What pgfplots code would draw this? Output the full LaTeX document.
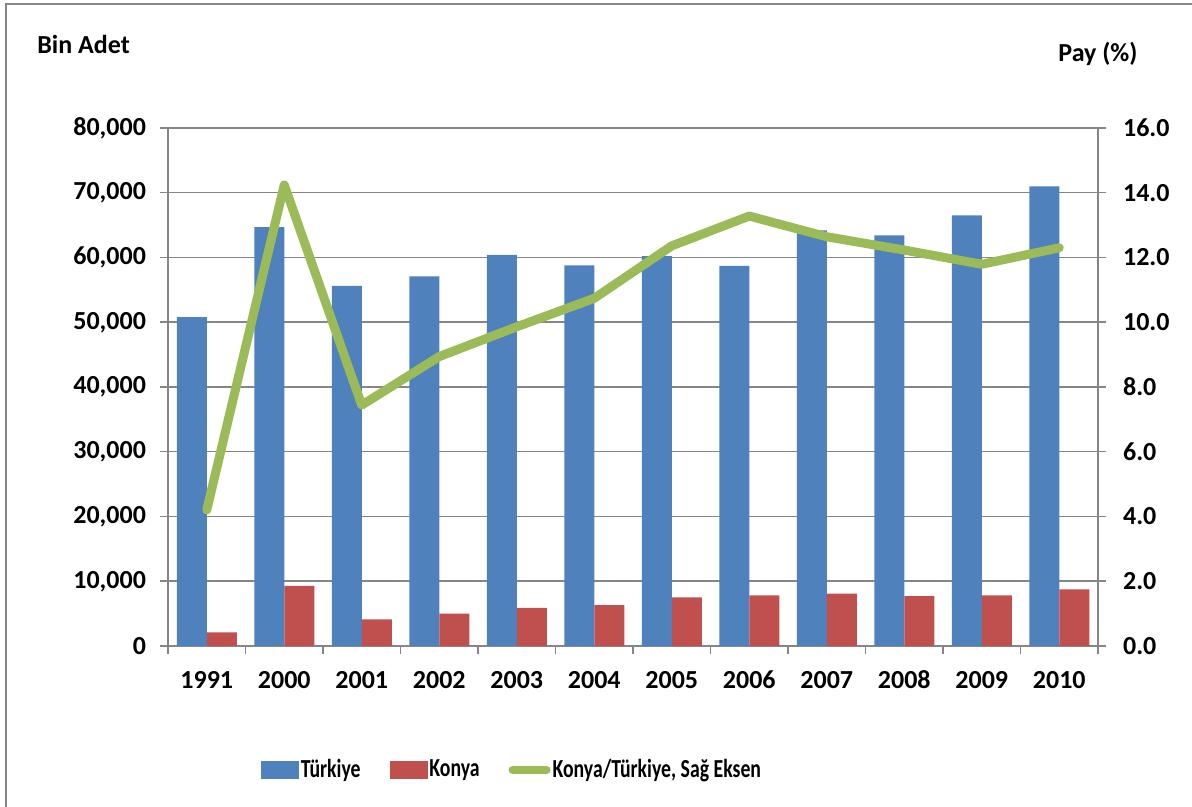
\documentclass[border=0pt]{standalone}
\usepackage{fontspec}
\setmainfont{Carlito}
\usepackage{pgfplots}
\pgfplotsset{compat=1.18}
\definecolor{trblue}{HTML}{4F81BD}
\definecolor{knred}{HTML}{C0504D}
\definecolor{shgreen}{HTML}{9BBB59}
\definecolor{axgray}{HTML}{868686}

\pgfplotsset{
  common/.style={
    at={(84pt,80.5pt)}, anchor=south west,
    scale only axis, width=465pt, height=259pt,
    xmin=-0.5, xmax=11.5,
    axis line style={axgray, line width=0.75pt},
    tick style={axgray, line width=0.75pt},
    tick align=outside,
    major tick length=4pt,
    tick label style={black},
  },
}
\newcommand{\legtext}[1]{\scalebox{0.76}[1]{#1}}

\begin{document}
\begin{tikzpicture}[font=\bfseries\fontsize{13}{15}\selectfont]
\path[use as bounding box] (0,0) rectangle (596pt,403.5pt);
\draw[axgray, line width=1pt] (3pt,0) -- (3pt,401.5pt) -- (596pt,401.5pt);

\node[anchor=base west, inner sep=0pt] at (18.5pt,376.5pt) {Bin Adet};
\node[anchor=base west, inner sep=0pt] at (529pt,372.7pt) {Pay (\%)};

% left axis: bars
\begin{axis}[
  common,
  ymin=0, ymax=80000,
  axis y line*=left, axis x line*=bottom,
  ybar=0pt, bar width=15pt,
  xtick={-0.5,0.5,...,11.5},
  xticklabels={1991,2000,2001,2002,2003,2004,2005,2006,2007,2008,2009,2010,{}},
  xticklabel style={xshift=19.375pt, yshift=-4.5pt, text height=9pt, text depth=0pt},
  ytick={0,10000,...,80000},
  scaled y ticks=false,
  yticklabel style={xshift=-3.5pt, /pgf/number format/.cd, fixed, 1000 sep={,}, assume math mode=true},
  ymajorgrids,
  grid style={axgray, line width=0.75pt},
]
\addplot[fill=trblue, draw=none] coordinates {
  (0,50800) (1,64700) (2,55600) (3,57100) (4,60400) (5,58800)
  (6,60200) (7,58700) (8,64200) (9,63400) (10,66500) (11,71000)
};
\addplot[fill=knred, draw=none] coordinates {
  (0,2100) (1,9300) (2,4100) (3,5000) (4,5900) (5,6300)
  (6,7500) (7,7800) (8,8100) (9,7700) (10,7800) (11,8750)
};
\end{axis}

% right axis: share
\begin{axis}[
  common,
  ymin=0, ymax=16,
  axis y line*=right, axis x line=none,
  ytick={0,2,...,16},
  yticklabel style={xshift=5pt, /pgf/number format/.cd, fixed, fixed zerofill, precision=1, assume math mode=true},
  legend style={at={(0.1,-0.2394)}, anchor=west, draw=none, fill=none,
    inner sep=0pt, outer sep=0pt, legend columns=3,
    nodes={inner xsep=1pt},
    /tikz/every even column/.append style={column sep=13.5pt}},
]
\addlegendimage{legend image code/.code={\fill[trblue] (0pt,-4.25pt) rectangle (18.5pt,4.25pt);}}
\addlegendentry{\legtext{Türkiye}}
\addlegendimage{legend image code/.code={\fill[knred] (0pt,-4.25pt) rectangle (18.5pt,4.25pt);}}
\addlegendentry{\legtext{Konya}}
\addplot[shgreen, line width=4.5pt, line cap=round, line join=round,
  legend image code/.code={\draw[shgreen, line width=4pt, line cap=round] (2pt,0pt) -- (19pt,0pt);}]
  coordinates {
  (0,4.2) (1,14.24) (2,7.44) (3,8.94) (4,9.86) (5,10.74)
  (6,12.36) (7,13.28) (8,12.64) (9,12.23) (10,11.79) (11,12.30)
};
\addlegendentry{\legtext{Konya/Türkiye, Sağ Eksen}}
\end{axis}
\end{tikzpicture}
\end{document}
